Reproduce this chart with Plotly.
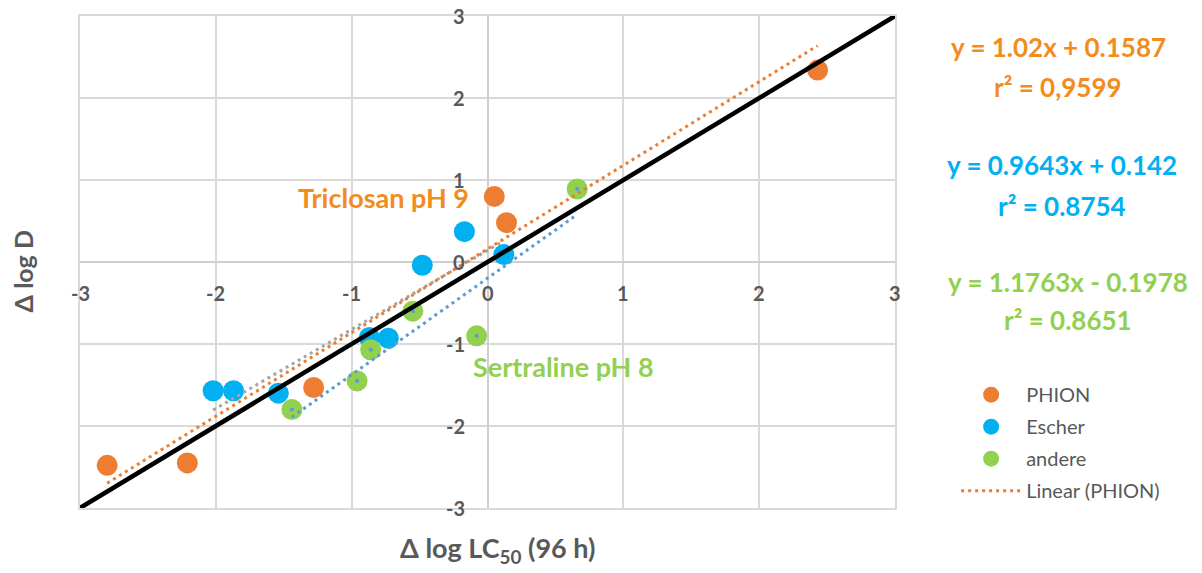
import plotly.graph_objects as go

# ---------------- data ----------------
phion_x = [2.43, 0.05, 0.14, -1.28, -2.21, -2.80]
phion_y = [2.34, 0.80, 0.48, -1.53, -2.45, -2.48]

escher_x = [0.12, -0.17, -0.48, -0.87, -0.73, -2.02, -1.87, -1.54]
escher_y = [0.09, 0.37, -0.04, -0.92, -0.93, -1.57, -1.57, -1.60]

andere_x = [0.66, -0.55, -0.08, -0.86, -0.96, -1.44]
andere_y = [0.89, -0.60, -0.90, -1.07, -1.45, -1.80]

# trend line coefficients (slope, intercept) as shown on the chart
phion_fit = (1.02, 0.1587)
escher_fit = (0.9643, 0.142)
andere_fit = (1.1763, -0.1978)

identity = [-3, 3]
tick_vals = [-3, -2, -1, 0, 1, 2, 3]
tick_text = ["-3", "-2", "-1", "0", "1", "2", "3"]

eq_texts = [
    ("y = 1.02x + 0.1587", "r² = 0,9599"),
    ("y = 0.9643x + 0.142", "r² = 0.8754"),
    ("y = 1.1763x - 0.1978", "r² = 0.8651"),
]

# ---------------- style ----------------
FONT = "Lato, Carlito, Calibri, sans-serif"
ORANGE = "#ED7D31"
BLUE = "#00B0F0"
GREEN = "#92D050"
GREY_TXT = "#595959"
GRID = "#D9D9D9"


def fit_line(xs, fit):
    lo, hi = min(xs), max(xs)
    return [lo, hi], [fit[0] * lo + fit[1], fit[0] * hi + fit[1]]


fig = go.Figure()

fig.add_trace(go.Scatter(x=phion_x, y=phion_y, mode="markers", name="PHION",
                         legendgroup="a",
                         marker=dict(color=ORANGE, size=21, line=dict(width=0))))
fig.add_trace(go.Scatter(x=escher_x, y=escher_y, mode="markers", name="Escher",
                         legendgroup="b",
                         marker=dict(color=BLUE, size=21, line=dict(width=0))))
fig.add_trace(go.Scatter(x=andere_x, y=andere_y, mode="markers", name="andere",
                         legendgroup="c",
                         marker=dict(color=GREEN, size=21, line=dict(width=0))))
fig.add_trace(go.Scatter(x=andere_x, y=andere_y, mode="markers", showlegend=False,
                         hoverinfo="skip",
                         marker=dict(color="#5B9BD5", size=4, line=dict(width=0))))

# trend lines
ex, ey = fit_line(escher_x, escher_fit)
fig.add_trace(go.Scatter(x=ex, y=ey, mode="lines", showlegend=False,
                         line=dict(color="#A5A5A5", width=3, dash="3px,4px")))
ax, ay = fit_line(andere_x, andere_fit)
fig.add_trace(go.Scatter(x=ax, y=ay, mode="lines", showlegend=False,
                         line=dict(color="#5B9BD5", width=3, dash="3px,4px")))
px_, py_ = fit_line(phion_x, phion_fit)
fig.add_trace(go.Scatter(x=px_, y=py_, mode="lines", name="Linear (PHION)",
                         legendgroup="d",
                         line=dict(color=ORANGE, width=3, dash="3px,4px")))

# 1:1 line
fig.add_trace(go.Scatter(x=identity, y=identity, mode="lines", showlegend=False,
                         line=dict(color="black", width=4.5), cliponaxis=False))

annotations = []
# tick labels at the crossing axes
for v, t in zip(tick_vals, tick_text):
    annotations.append(dict(x=v, y=0, xref="x", yref="y", text=f"<b>{t}</b>",
                            showarrow=False, xanchor="center", yanchor="middle",
                            yshift=-31, font=dict(family=FONT, size=20, color=GREY_TXT)))
    annotations.append(dict(x=0, y=v, xref="x", yref="y", text=f"<b>{t}</b>",
                            showarrow=False, xanchor="right", yanchor="middle",
                            xshift=-21, font=dict(family=FONT, size=20, color=GREY_TXT)))

# equations
eq_colors = ["#F28C1E", BLUE, GREEN]
eq_pos = [(1.200, 0.937, 0.856), (1.205, 0.697, 0.614), (1.212, 0.459, 0.382)]
for (l1, l2), c, (xp, y1, y2) in zip(eq_texts, eq_colors, eq_pos):
    annotations.append(dict(x=xp, y=y1, xref="paper", yref="paper", text=f"<b>{l1}</b>",
                            showarrow=False, xanchor="center", yanchor="middle",
                            font=dict(family=FONT, size=26, color=c)))
    annotations.append(dict(x=xp, y=y2, xref="paper", yref="paper", text=f"<b>{l2}</b>",
                            showarrow=False, xanchor="center", yanchor="middle",
                            font=dict(family=FONT, size=26, color=c)))

# point labels
annotations.append(dict(x=-0.125, y=0.79, xref="x", yref="y", text="<b>Triclosan pH 9</b>",
                        showarrow=False, xanchor="right", yanchor="middle",
                        font=dict(family=FONT, size=27, color="#F28C1E")))
annotations.append(dict(x=-0.125, y=-1.27, xref="x", yref="y", text="<b>Sertraline pH 8</b>",
                        showarrow=False, xanchor="left", yanchor="middle",
                        font=dict(family=FONT, size=27, color=GREEN)))

# axis titles
annotations.append(dict(x=0.513, y=-0.085, xref="paper", yref="paper",
                        text="<b>Δ log LC<sub>50</sub> (96 h)</b>",
                        showarrow=False, xanchor="center", yanchor="middle",
                        font=dict(family=FONT, size=27, color=GREY_TXT)))
annotations.append(dict(x=-0.0705, y=0.48, xref="paper", yref="paper",
                        text="<b>Δ log D</b>", textangle=-90,
                        showarrow=False, xanchor="center", yanchor="middle",
                        font=dict(family=FONT, size=25, color=GREY_TXT)))

axis_common = dict(range=[-3, 3], tickvals=tick_vals, showticklabels=False,
                   showgrid=True, gridcolor=GRID, gridwidth=2,
                   zeroline=True, zerolinecolor="#CFCFCF", zerolinewidth=2,
                   showline=True, linecolor=GRID, linewidth=2, mirror=True,
                   ticks="", fixedrange=True)

fig.update_layout(
    width=1202, height=573,
    margin=dict(l=80, r=307, t=16, b=65),
    paper_bgcolor="white", plot_bgcolor="white",
    xaxis=axis_common, yaxis=axis_common,
    showlegend=True,
    legend=dict(x=1.075, y=0.27, xanchor="left", yanchor="top",
                font=dict(family=FONT, size=20, color=GREY_TXT),
                tracegroupgap=3, itemwidth=60, bgcolor="rgba(0,0,0,0)"),
    annotations=annotations,
    font=dict(family=FONT),
)

fig.write_html("out.html")
